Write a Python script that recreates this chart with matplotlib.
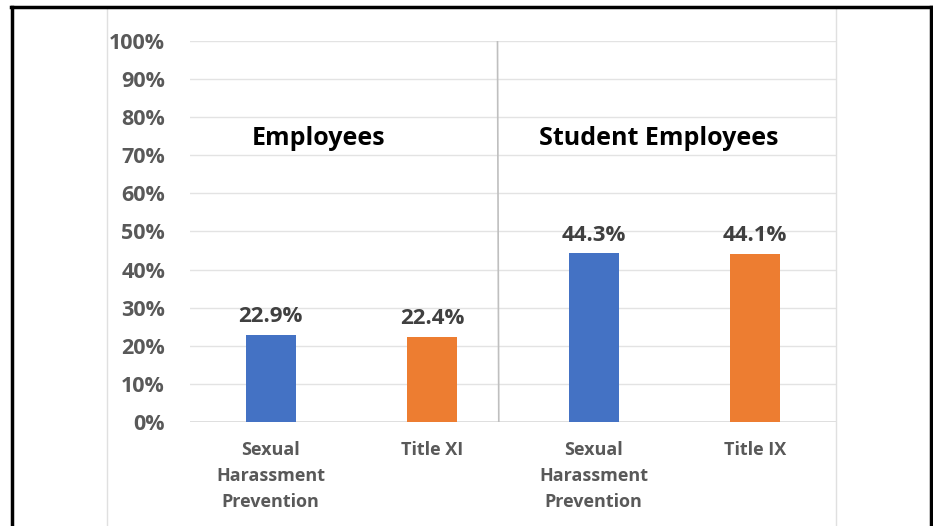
import matplotlib.pyplot as plt
from matplotlib.lines import Line2D

# training completion rates
categories = ['Sexual\nHarassment\nPrevention', 'Title XI', 'Sexual\nHarassment\nPrevention', 'Title IX']
values = [22.9, 22.4, 44.3, 44.1]
bar_colors = ['#4472C4', '#ED7D31', '#4472C4', '#ED7D31']
groups = ['Employees', 'Student Employees']
yticks = list(range(0, 101, 10))

plt.rcParams['font.family'] = ['Open Sans', 'DejaVu Sans']

fig = plt.figure(figsize=(9.33, 5.26), dpi=100)
ax = fig.add_axes([190/933, 1-422/526, 646/933, 381/526])

x = range(len(categories))
ax.bar(x, values, width=0.31, color=bar_colors, zorder=2)
ax.set_xlim(-0.5, len(categories) - 0.5)
ax.set_ylim(0, 100)

ax.set_yticks(yticks)
ax.set_yticklabels([f'{t}%' for t in yticks], fontsize=15.5, fontweight='bold', color='#595959')
ax.set_xticks(list(x))
ax.set_xticklabels(categories, fontsize=13, fontweight='bold', color='#595959', linespacing=1.55)
ax.tick_params(axis='y', length=0, pad=18)
ax.tick_params(axis='x', length=0, pad=14)
ax.grid(axis='y', color='#E3E3E3', linewidth=1, zorder=0)
for s in ax.spines.values():
    s.set_visible(False)
ax.axhline(0, color='#D9D9D9', linewidth=1.2, zorder=1)

# value labels
for xi, v in zip(x, values):
    ax.text(xi, v + 2.0, f'{v}%', ha='center', va='bottom',
            fontsize=16, fontweight='bold', color='#404040')

# group headings and divider
ax.text(0.1985, 0.745, groups[0], transform=ax.transAxes, ha='center', va='center',
        fontsize=18, fontweight='bold', color='black')
ax.text(0.726, 0.745, groups[1], transform=ax.transAxes, ha='center', va='center',
        fontsize=18, fontweight='bold', color='black')
ax.plot([0.476, 0.478], [1, 0], transform=ax.transAxes, color='#BFBFBF', linewidth=1.2, zorder=3)

# sheet cell lines and outer frame
fig.add_artist(Line2D([107/933, 107/933], [0, 1-8/526], color='#E0E0E0', linewidth=1))
fig.add_artist(Line2D([836/933, 836/933], [0, 1-8/526], color='#E0E0E0', linewidth=1))
fig.add_artist(Line2D([12/933, 12/933], [0, 1-7/526], color='black', linewidth=2.5))
fig.add_artist(Line2D([931/933, 931/933], [0, 1-7/526], color='black', linewidth=2.5))
fig.add_artist(Line2D([11/933, 932/933], [1-7/526, 1-7/526], color='black', linewidth=2.5))

fig.savefig('out.png', dpi=100)
